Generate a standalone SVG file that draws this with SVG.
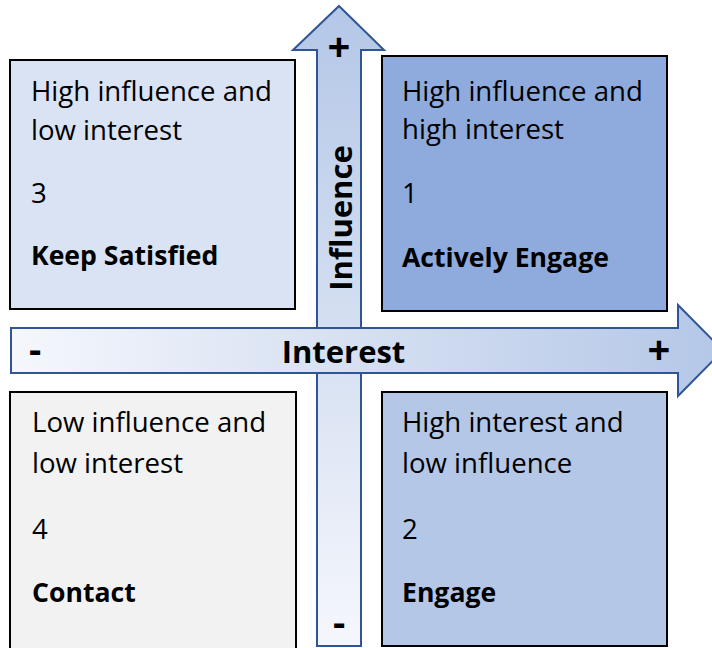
<svg xmlns="http://www.w3.org/2000/svg" width="712" height="648" viewBox="0 0 712 648">
  <defs>
    <linearGradient id="gradUp" x1="0" y1="0" x2="0" y2="1">
      <stop offset="0" stop-color="#b4c7e7"/>
      <stop offset="1" stop-color="#f5f7fc"/>
    </linearGradient>
    <linearGradient id="gradRight" x1="0" y1="0" x2="1" y2="0">
      <stop offset="0" stop-color="#f5f7fc"/>
      <stop offset="1" stop-color="#b4c7e7"/>
    </linearGradient>
  </defs>
  <style>
    .box { stroke: #000000; stroke-width: 2; }
    .axis { stroke: #2f5597; stroke-width: 2; stroke-linejoin: miter; }
    .t { font-family: "Open Sans", "Liberation Sans", sans-serif; font-size: 27.6px; fill: #000000; }
    .b { font-weight: bold; font-size: 26.6px; }
    .ax { font-family: "Open Sans", "Liberation Sans", sans-serif; font-weight: bold; fill: #000000; }
  </style>

  <rect width="712" height="648" fill="#ffffff"/>

  <!-- quadrant: high influence, low interest -->
  <g id="keep-satisfied">
    <rect class="box" x="10" y="60" width="285" height="249" fill="#dae3f3"/>
    <text class="t" x="31" y="101">High influence and</text>
    <text class="t" x="31" y="140">low interest</text>
    <text class="t" x="31" y="203">3</text>
    <text class="t b" x="31" y="265">Keep Satisfied</text>
  </g>

  <!-- quadrant: high influence, high interest -->
  <g id="actively-engage">
    <rect class="box" x="382" y="56" width="285" height="255" fill="#8faadc"/>
    <text class="t" x="402" y="101">High influence and</text>
    <text class="t" x="402" y="139">high interest</text>
    <text class="t" x="402" y="203">1</text>
    <text class="t b" x="402" y="267">Actively Engage</text>
  </g>

  <!-- quadrant: low influence, low interest -->
  <g id="contact">
    <rect class="box" x="10" y="392" width="286" height="270" fill="#f2f2f2"/>
    <text class="t" x="32" y="432">Low influence and</text>
    <text class="t" x="32" y="473">low interest</text>
    <text class="t" x="32" y="539">4</text>
    <text class="t b" x="32" y="602">Contact</text>
  </g>

  <!-- quadrant: high interest, low influence -->
  <g id="engage">
    <rect class="box" x="382" y="392" width="285" height="254" fill="#b4c7e7"/>
    <text class="t" x="402" y="432">High interest and</text>
    <text class="t" x="402" y="473">low influence</text>
    <text class="t" x="402" y="539">2</text>
    <text class="t b" x="402" y="602">Engage</text>
  </g>

  <!-- axes -->
  <g id="axes">
    <g id="influence-axis">
      <path class="axis" fill="url(#gradUp)" d="M339 6 L384 50 L361 50 L361 646 L317 646 L317 50 L293 50 Z"/>
      <text class="ax" font-size="31" text-anchor="middle" transform="translate(352 218) rotate(-90)">Influence</text>
      <text class="ax" font-size="40" text-anchor="middle" x="339" y="61">+</text>
      <text class="ax" font-size="38" text-anchor="middle" x="339" y="636">-</text>
    </g>
    <g id="interest-axis">
      <path class="axis" fill="url(#gradRight)" d="M723 350.5 L678 305 L678 328 L11 328 L11 373 L678 373 L678 396 Z"/>
      <text class="ax" font-size="31" text-anchor="middle" x="343.5" y="363">Interest</text>
      <text class="ax" font-size="40" text-anchor="middle" x="659" y="364">+</text>
      <text class="ax" font-size="38" text-anchor="middle" x="35" y="363">-</text>
    </g>
  </g>
</svg>
